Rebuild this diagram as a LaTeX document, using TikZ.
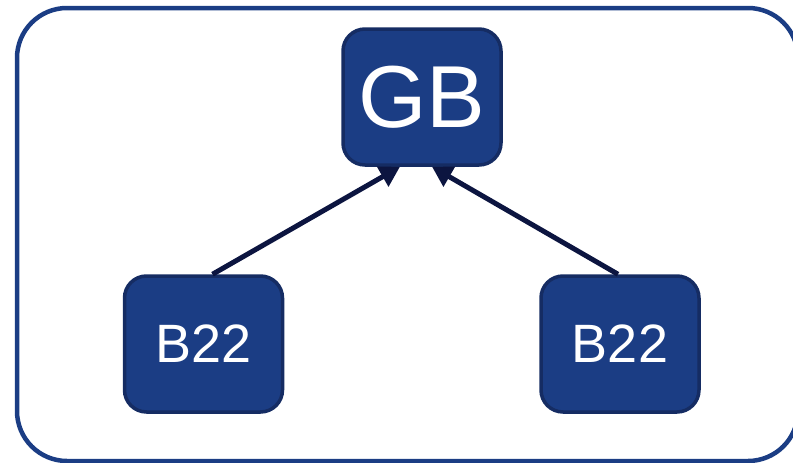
\documentclass[tikz,border=0pt]{standalone}
\usepackage{fontspec}
\setmainfont{Liberation Sans}
\usetikzlibrary{arrows.meta}
\definecolor{boxblue}{HTML}{1B3D84}
\definecolor{boxedge}{HTML}{152C63}
\definecolor{arrowdark}{HTML}{0C1540}

\begin{document}
\begin{tikzpicture}[x=1pt,y=-1pt,
        block/.style={draw=boxedge, fill=boxblue, line width=3.5pt, rounded corners=22pt,
            minimum width=158pt, minimum height=136pt, text=white, inner sep=0pt},
        link/.style={draw=arrowdark, line width=5pt, -{Triangle[length=20pt,width=22pt]}}]
        \useasboundingbox (0,0) rectangle (793,463);
        \clip (0,0) rectangle (793,463);

        % frame
        \draw[boxblue, line width=4.5pt, rounded corners=50pt] (17,8) rectangle (798,461);

        % nodes
        \node[block, font=\fontsize{88}{96}\selectfont] (gb) at (422,97) {GB};
        \node[block, font=\fontsize{54}{60}\selectfont] (bl) at (203.5,344) {B22};
        \node[block, font=\fontsize{54}{60}\selectfont] (br) at (620,344) {B22};

        % arrows
        \draw[link] ([xshift=9pt]bl.north) -- ([xshift=-22pt]gb.south);
        \draw[link] ([xshift=-2pt]br.north) -- ([xshift=10pt]gb.south);
    \end{tikzpicture}
\end{document}
